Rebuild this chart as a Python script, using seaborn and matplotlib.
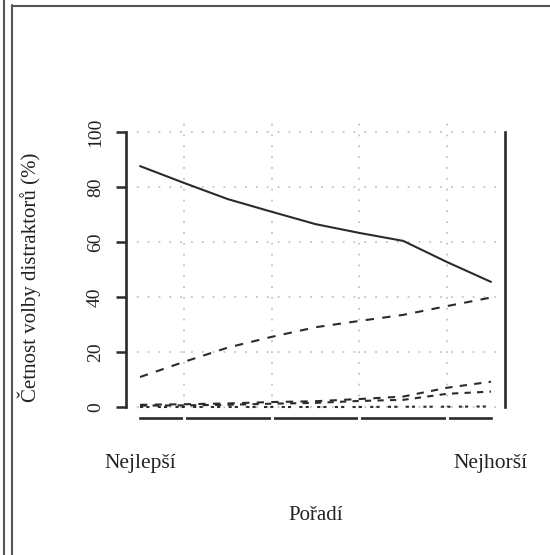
import matplotlib
matplotlib.use("Agg")
import matplotlib.pyplot as plt
import seaborn as sns
import pandas as pd
from matplotlib.lines import Line2D

# ---- data ----
positions = [0.1, 0.2, 0.3, 0.4, 0.5, 0.6, 0.7, 0.8, 0.9]
correct = [87.6, 81.5, 75.6, 71.0, 66.5, 63.3, 60.4, 52.7, 45.5]
distractor1 = [10.9, 16.4, 21.6, 25.5, 29.0, 31.3, 33.5, 36.7, 39.8]
distractor2 = [0.8, 1.0, 1.3, 1.8, 2.1, 2.9, 3.8, 7.0, 9.2]
distractor3 = [0.5, 0.6, 0.8, 1.2, 1.5, 2.2, 2.6, 4.8, 5.6]
distractor4 = [0.0, 0.0, 0.0, 0.0, 0.0, 0.0, 0.1, 0.1, 0.2]
series_names = ["správná", "d1", "d2", "d3", "d4"]
x_tick_pos = [0.1, 0.9]
x_tick_labels = ["Nejlepší", "Nejhorší"]
x_grid_pos = [0.2, 0.4, 0.6, 0.8]
y_ticks = [0, 20, 40, 60, 80, 100]

rows = []
for name, vals in zip(series_names, [correct, distractor1, distractor2, distractor3, distractor4]):
    for xp, v in zip(positions, vals):
        rows.append({"pos": xp, "pct": v, "series": name})
df = pd.DataFrame(rows)

sns.set_theme(style="white")
plt.rcParams["font.family"] = ["Liberation Serif", "DejaVu Serif"]

fig = plt.figure(figsize=(5.5, 5.55), dpi=100)
ax = fig.add_axes([126 / 550, 1 - 418 / 555, (505 - 126) / 550, (418 - 121) / 555])

ink = "#2b2b2b"
dashes = {"správná": "", "d1": (4, 4), "d2": (3.5, 3.5), "d3": (3, 3), "d4": (1.5, 1.5, 1.5, 4)}
sns.lineplot(data=df, x="pos", y="pct", style="series", dashes=dashes, color=ink,
             linewidth=1.5, legend=False, ax=ax, zorder=3)

ax.set_xlim(0.068, 0.932)
ax.set_ylim(-4, 104)

# grid
ax.set_yticks(y_ticks)
ax.set_xticks(x_tick_pos)
ax.set_xticklabels(x_tick_labels)
ax.set_xticks(x_grid_pos, minor=True)
ax.grid(False)
ax.grid(True, which="major", axis="y", color="#c4c4c4", linestyle=(0, (1, 5)), linewidth=1.3)
ax.grid(True, which="minor", axis="x", color="#c4c4c4", linestyle=(0, (1, 5)), linewidth=1.3)

# spines
ax.spines["top"].set_visible(False)
for s in ["left", "right", "bottom"]:
    ax.spines[s].set_color(ink)
    ax.spines[s].set_linewidth(1.9)
ax.spines["bottom"].set_zorder(1.5)
ax.spines["left"].set_bounds(0, 100)
ax.spines["right"].set_bounds(0, 100)
ax.spines["bottom"].set_bounds(0.1, 0.9)

# ticks
ax.tick_params(axis="y", which="major", length=7, width=1.8, color=ink, left=True,
               labelsize=14, pad=9, labelrotation=90, labelcolor="#222")
for lab in ax.get_yticklabels():
    lab.set_va("center")
ax.tick_params(axis="x", which="major", length=0, pad=26, labelsize=15.5, labelcolor="#222")
ax.tick_params(axis="x", which="minor", length=6, width=2.2, color="white",
               direction="inout", bottom=True)
ax.xaxis.set_zorder(2.6)

ax.set_xlabel("Pořadí", fontsize=15, color="#222")
ax.xaxis.set_label_coords(0.5, -0.295)
ax.set_ylabel("Četnost volby distraktorů (%)", fontsize=15, color="#222")
ax.yaxis.set_label_coords(-0.225, 0.475)

# outer frame lines
fc = "#555555"
fig.add_artist(Line2D([3.5 / 550, 3.5 / 550], [0, 1], transform=fig.transFigure, color=fc, lw=1.5))
fig.add_artist(Line2D([12 / 550, 12 / 550], [0, 1 - 5 / 555], transform=fig.transFigure, color=fc, lw=1.5))
fig.add_artist(Line2D([11.5 / 550, 1], [1 - 6 / 555, 1 - 6 / 555], transform=fig.transFigure, color=fc, lw=1.5))

fig.savefig("out.png", dpi=100)
